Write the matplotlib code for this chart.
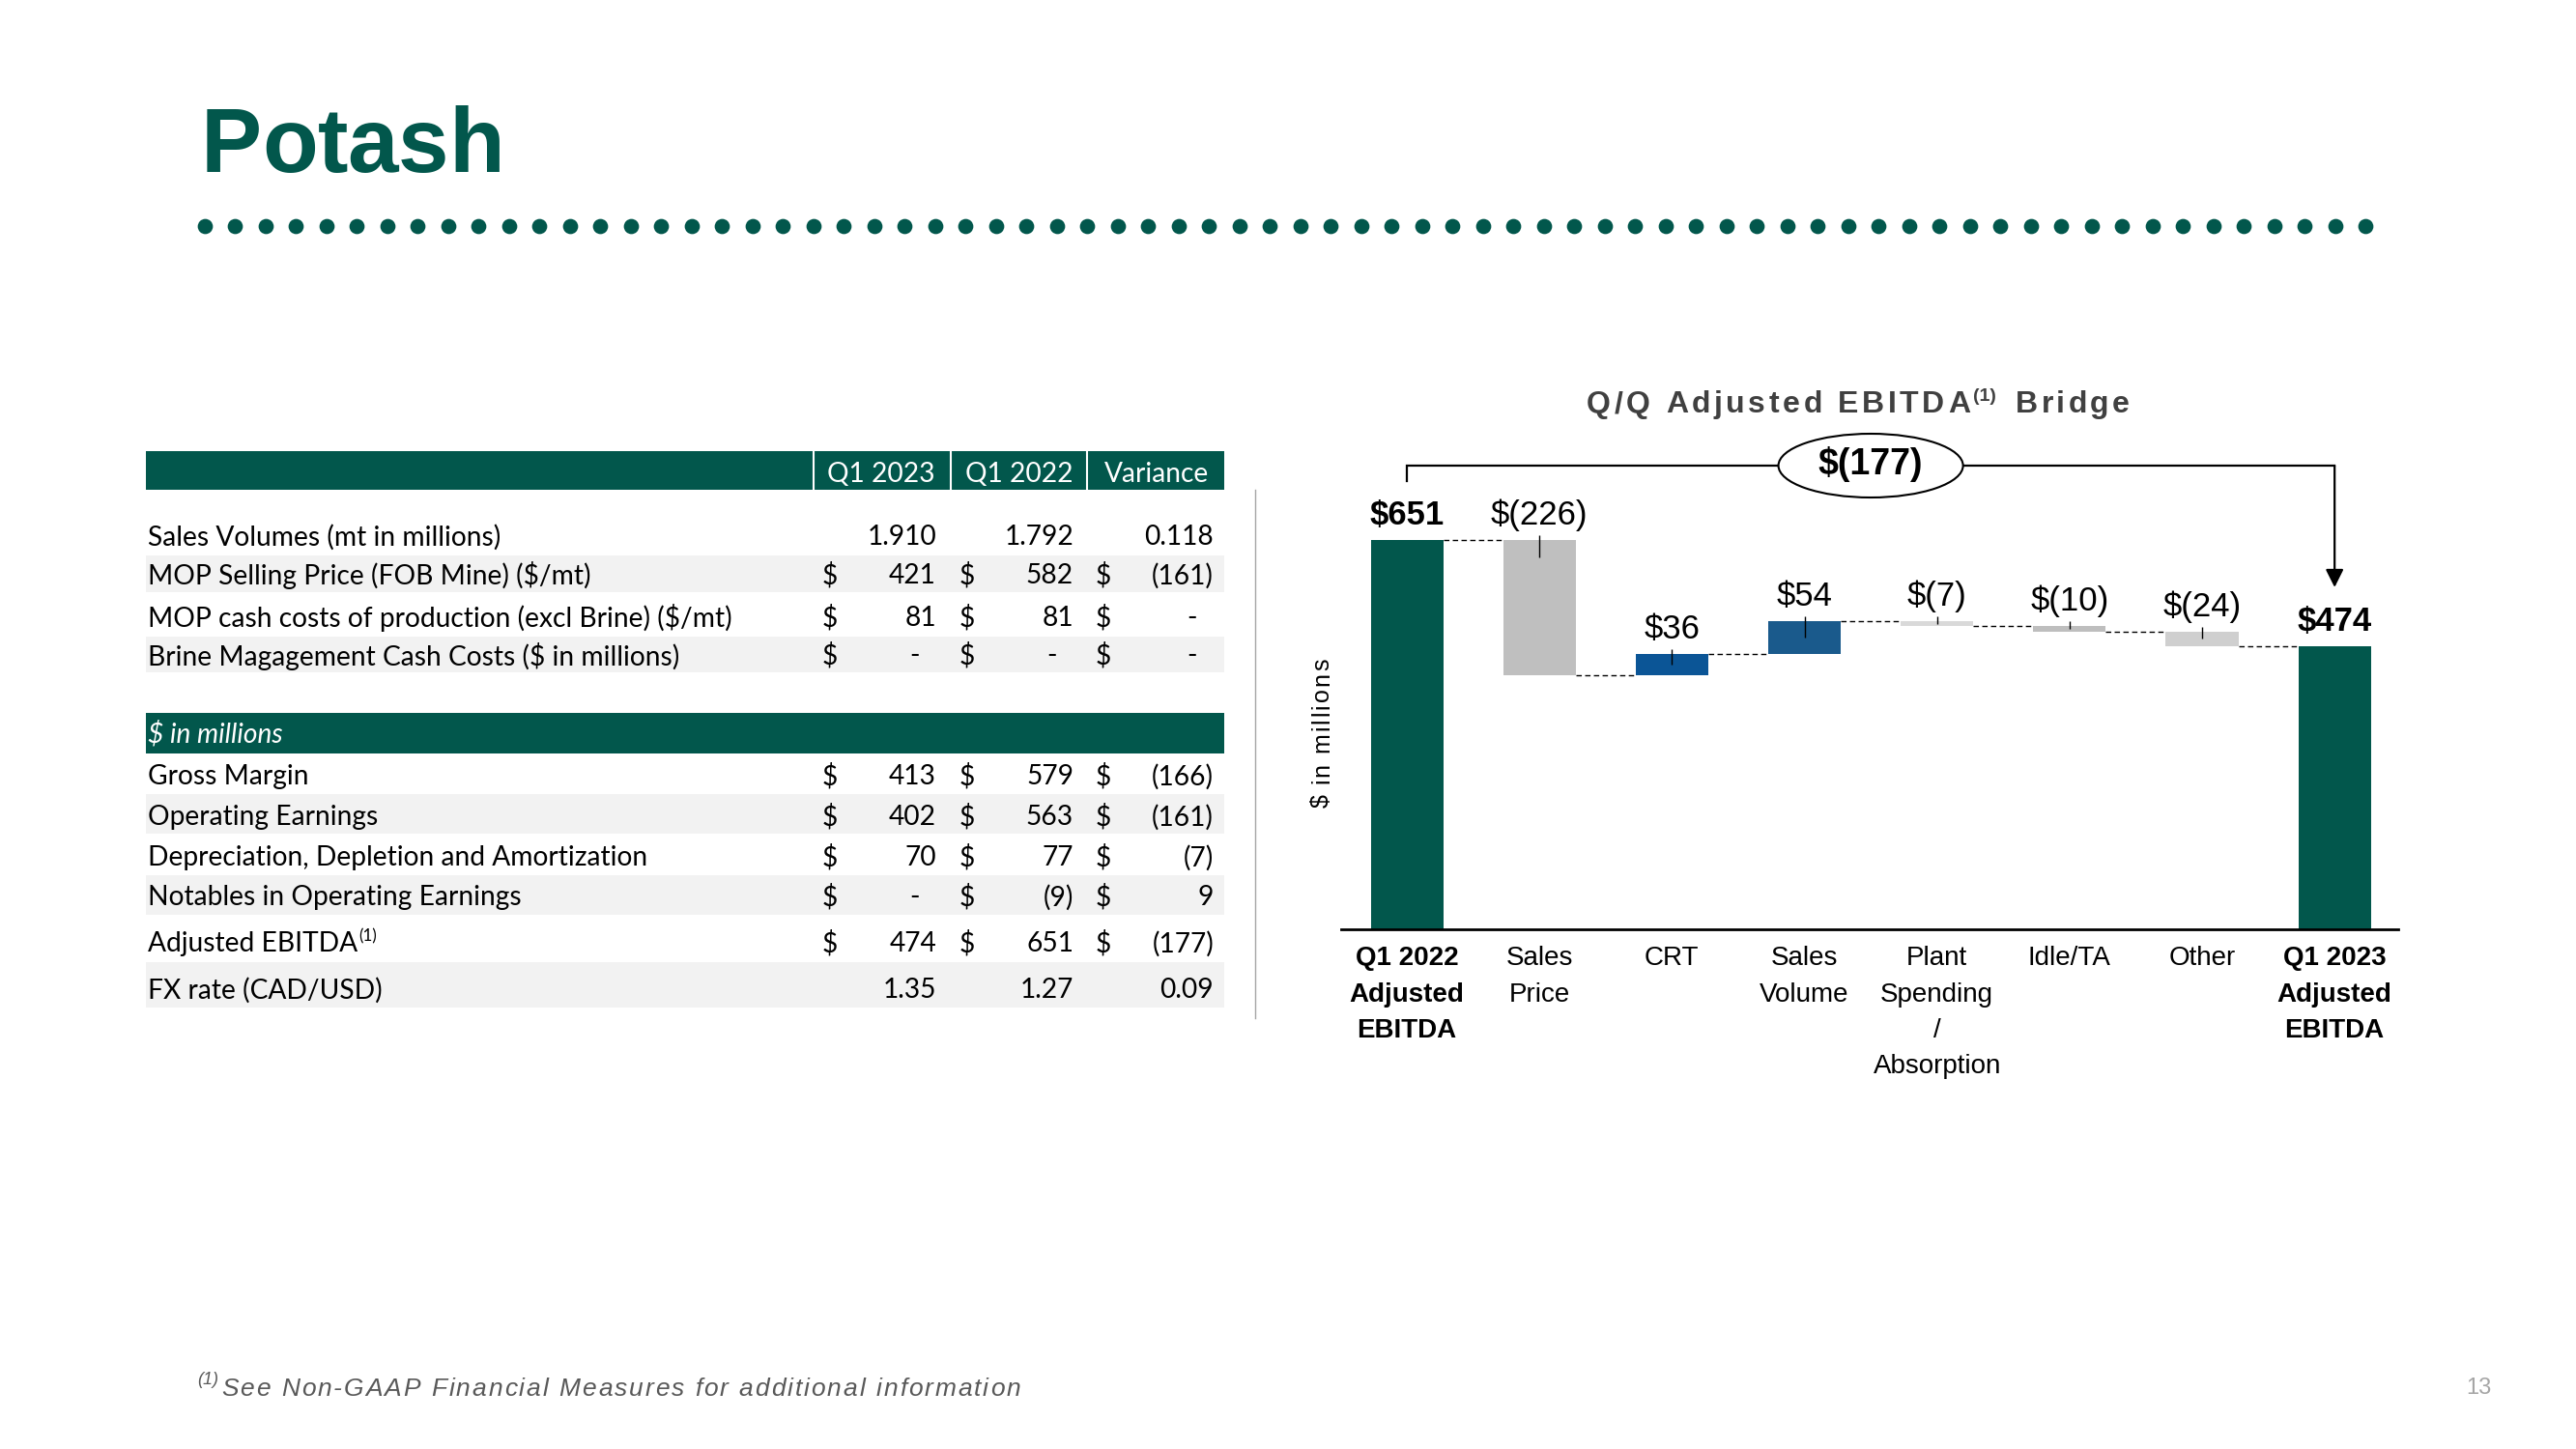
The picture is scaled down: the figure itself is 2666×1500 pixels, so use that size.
import numpy as np
import matplotlib
matplotlib.use("Agg")
import matplotlib.pyplot as plt
from matplotlib import font_manager
from matplotlib.patches import Rectangle, Ellipse

# ---------------- data ----------------
bridge_labels = ["Q1 2022\nAdjusted\nEBITDA", "Sales\nPrice", "CRT", "Sales\nVolume",
                 "Plant\nSpending\n/\nAbsorption", "Idle/TA", "Other",
                 "Q1 2023\nAdjusted\nEBITDA"]
start_ebitda = 651
end_ebitda = 474
bridge_changes = [-226, 36, 54, -7, -10, -24]
bridge_text = ["$651", "$(226)", "$36", "$54", "$(7)", "$(10)", "$(24)", "$474"]
total_change_text = "$(177)"

table_cols = ["Q1 2023", "Q1 2022", "Variance"]

ops_labels = ["Sales Volumes (mt in millions)",
              "MOP Selling Price (FOB Mine) ($/mt)",
              "MOP cash costs of production (excl Brine) ($/mt)",
              "Brine Magagement Cash Costs ($ in millions)"]
ops_q1_2023 = ["1.910", "421", "81", "-"]
ops_q1_2022 = ["1.792", "582", "81", "-"]
ops_variance = ["0.118", "(161)", "-", "-"]
ops_dollar = [False, True, True, True]

fin_labels = ["Gross Margin", "Operating Earnings",
              "Depreciation, Depletion and Amortization",
              "Notables in Operating Earnings", "Adjusted EBITDA",
              "FX rate (CAD/USD)"]
fin_q1_2023 = ["413", "402", "70", "-", "474", "1.35"]
fin_q1_2022 = ["579", "563", "77", "(9)", "651", "1.27"]
fin_variance = ["(166)", "(161)", "(7)", "9", "(177)", "0.09"]
fin_dollar = [True, True, True, True, True, False]

# ---------------- style ----------------
GREEN = "#02574C"
BAND = "#F2F2F2"
change_colors = ["#BFBFBF", "#0B5596", "#1A5A8C", "#D9D9D9", "#BEBEBE", "#CFCFCF"]

W, H = 2666, 1500
fig = plt.figure(figsize=(W / 100, H / 100), dpi=100)
fig.patch.set_facecolor("white")

names = {f.name for f in font_manager.fontManager.ttflist}
title_family = "Liberation Sans Narrow" if "Liberation Sans Narrow" in names else "Liberation Sans"
CHART_FONT = "Liberation Sans"
TABLE_FONT = "Lato"

# full-page axes in pixel coordinates for the slide decoration and the table
bg = fig.add_axes([0, 0, 1, 1])
bg.set_xlim(0, W)
bg.set_ylim(H, 0)
bg.axis("off")
renderer = fig.canvas.get_renderer()


def spread(s, a0, a1, pos, vertical=False, **kw):
    # draw a string char by char so that it fills the span a0..a1 (letter spacing)
    fs = kw.get("fontsize", 12)
    items = []
    for ch in s:
        if ch == " ":
            items.append((None, 0.28 * fs * 100 / 72))
            continue
        if vertical:
            t = bg.text(pos, 0, ch, rotation=90, rotation_mode="anchor",
                        ha="left", va="baseline", **kw)
            items.append((t, t.get_window_extent(renderer).height))
        else:
            t = bg.text(0, pos, ch, ha="left", va="baseline", **kw)
            items.append((t, t.get_window_extent(renderer).width))
    total = sum(w for _, w in items)
    gap = (abs(a1 - a0) - total) / max(len(items) - 1, 1)
    a = a0
    for t, w in items:
        if t is not None:
            if vertical:
                t.set_y(a)
            else:
                t.set_x(a)
        a = a - (w + gap) if vertical else a + w + gap


# ---------------- header ----------------
spread("Potash", 208, 522, 178, fontsize=68, fontweight="bold",
       family=title_family, color=GREEN)
bg.scatter(np.linspace(212, 2448, 72), np.full(72, 234), s=128, color=GREEN,
           linewidths=0)

# ---------------- table ----------------
probe = bg.text(0, 0, ops_labels[2], fontsize=18, family=TABLE_FONT)
tfs = 18 * 601 / probe.get_window_extent(renderer).width
probe.remove()

tx0, tx1 = 151, 1267
bg.add_patch(Rectangle((tx0, 467), tx1 - tx0, 40, color=GREEN, lw=0))
for xd in [842, 984, 1125]:
    bg.plot([xd, xd], [467, 507], color="white", lw=1.5)
for xc, name in zip([912, 1055, 1197], table_cols):
    bg.text(xc, 491, name, ha="center", va="center", color="white",
            fontsize=tfs, family=TABLE_FONT)

for y0, y1 in [(575, 613), (659, 696), (822, 863), (906, 947), (996, 1043)]:
    bg.add_patch(Rectangle((tx0, y0), tx1 - tx0, y1 - y0, color=BAND, lw=0))

bg.add_patch(Rectangle((tx0, 738), tx1 - tx0, 42, color=GREEN, lw=0))
bg.text(153, 760, "$ in millions", ha="left", va="center", color="white",
        fontsize=tfs, family=TABLE_FONT, style="italic")

dollar_x = [851, 993, 1134]
value_x = [969, 1111, 1256]


def table_row(y, label, vals, dollar):
    t = bg.text(153, y, label, ha="left", va="center", fontsize=tfs,
                family=TABLE_FONT, color="black")
    for dx, vx, v in zip(dollar_x, value_x, vals):
        if dollar:
            bg.text(dx, y, "$", ha="left", va="center", fontsize=tfs,
                    family=TABLE_FONT)
        xr = vx - 17 if v == "-" else vx
        bg.text(xr, y, v, ha="right", va="center", fontsize=tfs,
                family=TABLE_FONT)
    return t


for y, lab, a, b, c, d in zip([556, 596, 640, 679], ops_labels, ops_q1_2023,
                              ops_q1_2022, ops_variance, ops_dollar):
    table_row(y, lab, [a, b, c], d)

for y, lab, a, b, c, d in zip([804, 846, 888, 929, 977, 1025], fin_labels,
                              fin_q1_2023, fin_q1_2022, fin_variance, fin_dollar):
    t = table_row(y, lab, [a, b, c], d)
    if lab == "Adjusted EBITDA":
        xe = t.get_window_extent(renderer).x1
        bg.text(xe + 1, y - 8, "(1)", ha="left", va="center",
                fontsize=tfs * 0.6, family=TABLE_FONT)

bg.plot([1299, 1299], [507, 1054], color="#A6A6A6", lw=1)

# ---------------- waterfall ----------------
ax = fig.add_axes([1388 / W, 1 - 962 / H, (2482 - 1388) / W, (962 - 440) / H])
ax.patch.set_alpha(0)
ax.set_xlim(-0.496, 7.48)
ax.set_ylim(0, 522 / 0.6186)

x = np.arange(len(bridge_labels))
levels = start_ebitda + np.cumsum(bridge_changes)
prev = np.concatenate([[start_ebitda], levels[:-1]])
bottoms = np.minimum(prev, levels)
heights = np.abs(bridge_changes)
bw = 0.547

ax.bar([x[0], x[-1]], [start_ebitda, end_ebitda], width=bw, color=GREEN, zorder=2)
ax.bar(x[1:-1], heights, bottom=bottoms, width=bw, color=change_colors, zorder=2)

# dashed connectors
all_levels = np.concatenate([[start_ebitda], levels])
ax.hlines(all_levels, x[:-1] + bw / 2, x[1:] - bw / 2, colors="black",
          linestyles=(0, (4, 2.5)), lw=1, zorder=1)

# small leader ticks inside the change bars
tops = np.maximum(prev, levels)
below = np.clip(0.5 * heights, 4, 28)
ax.vlines(x[1:-1], tops - below, tops + 8, colors="black", lw=1, zorder=3)

# value labels
label_tops = np.concatenate([[start_ebitda], tops, [end_ebitda]])
for i, (txt, yt) in enumerate(zip(bridge_text, label_tops)):
    bold = i in (0, len(bridge_text) - 1)
    ax.annotate(txt, (x[i], yt), xytext=(0, 11.5), textcoords="offset points",
                ha="center", va="baseline", fontsize=25, family=CHART_FONT,
                fontweight="bold" if bold else "normal")

# bracket with total change
y_br = (962 - 482) / 0.6186
ax.plot([x[0], x[0], x[-1]], [(962 - 498) / 0.6186, y_br, y_br], color="black",
        lw=1.6, clip_on=False, solid_joinstyle="miter")
ax.annotate("", xy=(x[-1], (962 - 608) / 0.6186), xytext=(x[-1], y_br),
            arrowprops=dict(arrowstyle="-|>", lw=1.6, color="black",
                            mutation_scale=28, shrinkA=0, shrinkB=0),
            annotation_clip=False)
ax.add_patch(Ellipse((3.5, y_br), 1.393, 66 / 0.6186, facecolor="white",
                     edgecolor="black", lw=1.5, clip_on=False, zorder=4))
ax.text(3.5, y_br + 2, total_change_text, ha="center", va="center", fontsize=27,
        fontweight="bold", family=CHART_FONT, zorder=5)

for side in ["top", "right", "left"]:
    ax.spines[side].set_visible(False)
ax.spines["bottom"].set_linewidth(2)
ax.set_yticks([])
ax.set_xticks(x)
ax.set_xticklabels(bridge_labels, fontsize=20, family=CHART_FONT, linespacing=1.56)
for i, lab in enumerate(ax.get_xticklabels()):
    if i in (0, len(bridge_labels) - 1):
        lab.set_fontweight("bold")
ax.tick_params(axis="x", length=0, pad=12.5)

# chart title with superscript
spread("Q/Q Adjusted EBITDA", 1642, 2039, 427, fontsize=23, fontweight="bold",
       family=CHART_FONT, color="#404040")
bg.text(2042, 415, "(1)", ha="left", va="baseline", fontsize=14,
        fontweight="bold", family=CHART_FONT, color="#404040")
spread("Bridge", 2086, 2204, 427, fontsize=23, fontweight="bold",
       family=CHART_FONT, color="#404040")

# y label
spread("$ in millions", 836, 682, 1375, vertical=True, fontsize=18,
       family=CHART_FONT, color="black")

# ---------------- footer ----------------
bg.text(204, 1433, "(1)", ha="left", va="baseline", fontsize=13, style="italic",
        family=CHART_FONT, color="#595959")
spread("See Non-GAAP Financial Measures for additional information", 229, 1056,
       1445, fontsize=19, style="italic", family=CHART_FONT, color="#595959")
bg.text(2565, 1443, "13", ha="center", va="baseline", fontsize=17,
        family=CHART_FONT, color="#A6A6A6")

fig.savefig("out.png", dpi=100)
